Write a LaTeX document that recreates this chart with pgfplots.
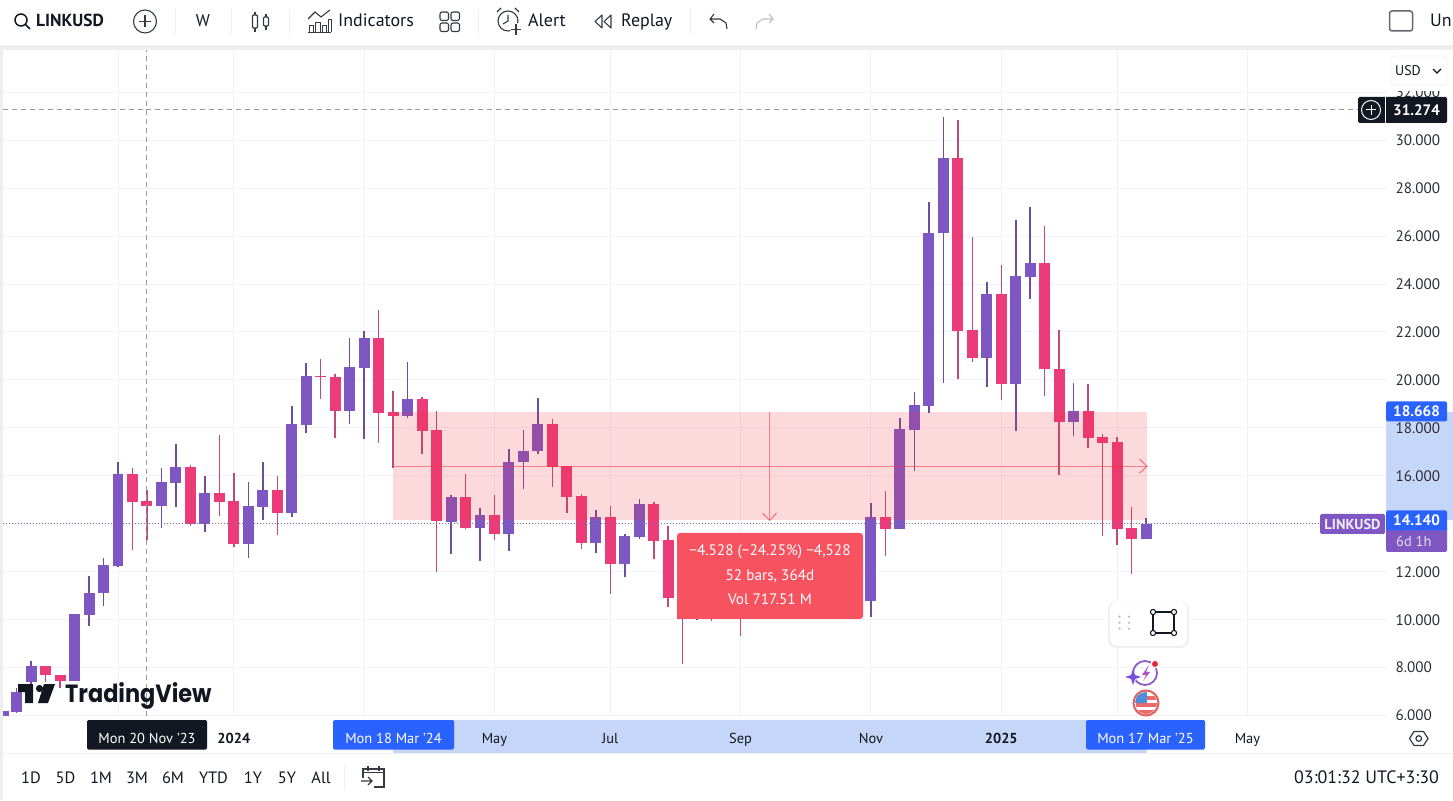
\documentclass[border=0pt]{standalone}
\usepackage{fontspec}
\usepackage{pgfplots}
\usepackage{pgfplotstable}
\pgfplotsset{compat=1.18}
\setmainfont{PT Sans}
\newfontfamily\tvfont[FakeStretch=0.9]{Poppins}
\definecolor{bullb}{HTML}{7E57C2}
\definecolor{bearb}{HTML}{EB3B79}
\definecolor{bullw}{HTML}{6C4E9F}
\definecolor{bearw}{HTML}{BE4A78}
\definecolor{ink}{HTML}{131722}
\definecolor{gridc}{HTML}{F0F2F8}
\definecolor{strip}{HTML}{EEEEEE}
\definecolor{tvblue}{HTML}{2962FF}
\definecolor{band}{HTML}{C6D6F9}
\definecolor{redt}{HTML}{F23645}
\definecolor{tip}{HTML}{F7525F}
\definecolor{cross}{HTML}{9598A1}
\definecolor{icon}{HTML}{2A2E39}
\definecolor{sepc}{HTML}{F0F0F0}
\definecolor{pline}{HTML}{7F6FA8}
\definecolor{boxc}{HTML}{F2F2F2}
\definecolor{ring}{HTML}{8E5BC7}
\definecolor{star}{HTML}{7B4FE0}
\definecolor{bolt}{HTML}{B14FC9}
\definecolor{dotr}{HTML}{E0283C}
\definecolor{flagr}{HTML}{E96A6A}
\definecolor{flagb}{HTML}{4C8FDB}
\definecolor{flagc}{HTML}{E06060}
% x = weekly bar index, o h l c = open high low close
\pgfplotstableread{
x o h l c
-7.9 5.98 6.19 5.98 6.19
-7 6.150 7.152 6.109 6.985
-6 7.402 8.278 7.30 8.069
-3 7.443 10.251 7.44 10.226
-2 10.196 11.823 9.750 11.127
-1 11.102 12.574 10.572 12.282
0 12.253 16.591 12.186 16.065
3 14.755 16.315 13.813 15.731
4 15.715 17.329 14.714 16.382
6 13.980 15.994 13.646 15.273
9 13.158 15.731 12.586 14.730
10 14.714 16.566 14.159 15.398
12 14.451 18.914 14.296 18.150
13 18.134 20.695 17.800 20.165
16 18.718 21.750 18.176 20.528
17 20.511 22.030 17.525 21.750
20 18.509 20.749 18.426 19.193
23 14.088 15.189 12.741 15.118
25 13.813 14.647 12.461 14.367
27 13.575 17.120 12.866 16.591
28 16.578 17.913 15.464 17.049
29 17.024 19.235 16.912 18.163
33 13.199 14.576 12.770 14.284
35 12.336 13.563 11.794 13.479
36 13.450 15.035 13.366 14.826
40 10.02 11.6 9.98 11.2
52 10.780 14.868 10.125 14.284
54 13.783 18.401 13.78 17.942
55 17.913 19.485 16.215 18.943
56 18.926 27.435 18.609 26.142
57 26.117 30.955 19.861 29.270
60 20.903 24.073 19.719 23.585
62 19.819 26.672 17.871 24.336
63 24.307 27.202 23.389 24.866
66 18.259 19.861 17.675 18.693
71 13.366 14.255 13.366 13.992
}\bull
\pgfplotstableread{
x o h l c
-5 8.069 8.069 7.402 7.694
-4 7.694 7.694 7.152 7.443
1 16.065 16.315 12.907 14.922
2 14.951 15.410 13.325 14.755
5 16.382 16.453 13.909 13.980
7 15.273 17.704 14.338 14.922
8 14.939 16.107 13.045 13.158
11 15.398 15.994 13.533 14.451
14 20.165 20.862 19.193 20.140
15 20.123 20.248 17.592 18.718
18 21.750 22.905 17.383 18.634
19 18.663 19.539 16.315 18.497
21 19.193 19.302 16.899 17.884
22 17.900 18.693 12.002 14.117
24 15.118 16.065 13.771 13.813
26 14.367 15.202 13.325 13.575
30 18.163 18.359 15.548 16.382
31 16.411 16.411 14.463 15.131
32 15.148 15.231 12.949 13.199
34 14.284 14.743 11.072 12.336
37 14.826 14.897 12.520 13.283
38 13.312 13.921 10.518 10.893
39 10.906 11.5 8.140 10.017
41 11.2 11.6 9.95 10.2
43 12.0 12.8 9.333 10.6
53 14.284 15.368 12.657 13.783
58 29.270 30.843 20.027 22.055
59 22.084 25.975 20.762 20.903
61 23.585 24.795 19.164 19.819
64 24.866 26.434 19.331 20.444
65 20.470 22.084 16.036 18.259
67 18.693 19.819 17.149 17.592
68 17.608 17.733 13.504 17.383
69 17.400 17.633 13.116 13.783
70 13.813 14.689 11.894 13.366
}\bear
\newcommand{\tx}[6]{\node[anchor=#1,inner sep=0pt,text=#5,font=\fontsize{#4}{#4}\selectfont] at (#2,#3) {#6};}
\tikzset{pxs/.style={x=1bp,y=-1bp,shift={(-3bp,715.6bp)}}}
\begin{document}
\begin{tikzpicture}
\begin{scope}[pxs]
\useasboundingbox (0,0) rectangle (1453,800);
\fill[white] (0,0) rectangle (1453,800);
\fill[strip] (0,45) rectangle (1453,50);
\fill[strip] (0,45) rectangle (3,800);
\draw[sepc,line width=1pt] (3,753.5) -- (1453,753.5);
\fill[band] (1386,412) rectangle (1453,520);
\fill[band] (393,720) rectangle (1147,753);
\end{scope}
\begin{axis}[
 at={(0pt,0pt)},anchor=south west,scale only axis,
 width=1384bp,height=665.6bp,
 xmin=-7.942,xmax=87.64,ymin=6,ymax=33.762,
 axis line style={draw=none},
 tick style={draw=none},
 grid=major,
 major grid style={draw=gridc,line width=1pt},
 ytick={6,8,...,32},
 yticklabels={6.000,8.000,10.000,12.000,{},16.000,18.000,20.000,22.000,24.000,26.000,28.000,30.000,32.000},
 xtick={0,8,17,26,34,43,52,61,69,78},
 xticklabels={{},\textbf{2024},{},May,Jul,Sep,Nov,\textbf{2025},{},May},
 xticklabel style={anchor=base,yshift=-28bp,font=\fontsize{14.5}{14.5}\selectfont,text=ink},
 yticklabel pos=right,
 yticklabel style={anchor=west,xshift=5bp,font=\fontsize{15.2}{15.2}\selectfont,text=ink!90},
]
% candle wicks and bodies
\addplot[draw=none,mark=none,error bars/.cd,y dir=both,y explicit,error mark=none,
  error bar style={draw=bullw,line width=1.5pt,solid}]
  table[x=x,y=c,y error plus expr=\thisrow{h}-\thisrow{c},y error minus expr=\thisrow{c}-\thisrow{l}]{\bull};
\addplot[draw=none,mark=none,error bars/.cd,y dir=both,y explicit,error mark=none,
  error bar style={draw=bearw,line width=1.5pt,solid}]
  table[x=x,y=c,y error plus expr=\thisrow{h}-\thisrow{c},y error minus expr=\thisrow{c}-\thisrow{l}]{\bear};
\addplot[draw=none,mark=none,error bars/.cd,y dir=plus,y explicit,error mark=none,
  error bar style={draw=bullb,line width=11pt,solid}]
  table[x=x,y=o,y error plus expr=\thisrow{c}-\thisrow{o}]{\bull};
\addplot[draw=none,mark=none,error bars/.cd,y dir=plus,y explicit,error mark=none,
  error bar style={draw=bearb,line width=11pt,solid}]
  table[x=x,y=c,y error plus expr=\thisrow{o}-\thisrow{c}]{\bear};
% measure tool
\addplot[fill=redt,fill opacity=0.19,draw=none] coordinates {(19,18.668)(71.06,18.668)(71.06,14.14)(19,14.14)} --cycle;
\addplot[redt,opacity=0.55,line width=1.3pt,mark=none] coordinates {(19,16.404)(71.06,16.404)};
\addplot[redt,opacity=0.55,line width=1.3pt,mark=none] coordinates {(70.55,16.70)(71.06,16.404)(70.55,16.11)};
\addplot[redt,opacity=0.55,line width=1.3pt,mark=none] coordinates {(45,18.668)(45,14.14)};
\addplot[redt,opacity=0.55,line width=1.3pt,mark=none] coordinates {(44.52,14.44)(45,14.14)(45.48,14.44)};
% crosshair
\addplot[cross,line width=1pt,dash pattern=on 5pt off 4pt,mark=none] coordinates {(-7.94,31.274)(86,31.274)};
\addplot[cross,line width=1pt,dash pattern=on 5pt off 4pt,mark=none] coordinates {(2,6)(2,33.76)};
% last price line
\addplot[pline,line width=1pt,dash pattern=on 1pt off 2pt,mark=none] coordinates {(-7.94,14.0)(83.2,14.0)};
\end{axis}
\begin{scope}[pxs]
% cover above and below the price scale
\fill[white] (1387,52) rectangle (1453,91);
\fill[white] (1387,720) rectangle (1453,753);
% time axis tags
\fill[ink,rounded corners=1.5pt] (87,720) rectangle (207,749.5);
\tx{base}{147}{743}{14.5}{white}{Mon 20 Nov '23}
\fill[tvblue,rounded corners=1.5pt] (333,720) rectangle (454,749.5);
\tx{base}{393.5}{743}{14.5}{white}{Mon 18 Mar '24}
\fill[tvblue,rounded corners=1.5pt] (1086,720) rectangle (1205,749.5);
\tx{base}{1145.5}{743}{14.5}{white}{Mon 17 Mar '25}
% price scale tags
\fill[tvblue,rounded corners=1.5pt] (1386,401.5) rectangle (1447,421.5);
\tx{base}{1416.5}{417}{15.2}{white}{\textbf{18.668}}
\fill[bullb,rounded corners=1.5pt] (1386,525) rectangle (1447,552);
\fill[tvblue,rounded corners=1.5pt] (1386,510.5) rectangle (1447,530.5);
\tx{base}{1416.5}{526}{15.2}{white}{\textbf{14.140}}
\tx{base west}{1396}{547}{14.5}{white!80!bullb}{6d 1h}
\fill[bullb,rounded corners=1.5pt] (1320,514) rectangle (1385,534);
\tx{base}{1352.5}{530}{14.5}{white!90!bullb}{\textbf{LINKUSD}}
\fill[ink,rounded corners=1.5pt] (1358,97) rectangle (1447,123);
\draw[white,line width=0.8pt] (1385.5,97) -- (1385.5,123);
\draw[white,line width=1pt] (1371,110) circle (9.5);
\draw[white,line width=1pt] (1366,110) -- (1376,110) (1371,105) -- (1371,115);
\tx{base}{1416.5}{115.5}{15.2}{white}{\textbf{31.274}}
\draw[boxc,fill=white,rounded corners=4pt,line width=0.8pt] (1391,56) rectangle (1447,85);
\tx{base west}{1395}{76}{14}{ink}{USD}
\draw[ink,line width=1.3pt] (1433,69) -- (1437,73) -- (1441,69);
% tooltip
\fill[tip,rounded corners=3pt] (677,533) rectangle (863,619);
\tx{base}{770}{556}{15.3}{white}{−4.528 (−24.25\%) −4,528}
\tx{base}{770}{581}{15.3}{white}{52 bars, 364d}
\tx{base}{770}{605}{15.3}{white}{Vol 717.51 M}
% TradingView mark
\fill[ink!95!black] (18,684) -- (33,684) -- (33,703) -- (25,703) -- (25,692) -- (18,692) -- cycle;
\fill[ink!95!black] (39.5,688.5) circle (3.6);
\fill[ink!95!black] (44,684) -- (55,684) -- (48,703) -- (38,703) -- cycle;
\tx{base west}{65}{702}{25}{ink!95!black}{\tvfont\bfseries TradingView}
% drawing toolbar
\fill[black!6,rounded corners=8pt] (1108,601) rectangle (1189,648);
\fill[white,rounded corners=8pt] (1110,601) rectangle (1187,646);
\foreach \yy in {616.7,622.7,628.7} {\fill[black!25] (1119.5,\yy) circle (1.3); \fill[black!25] (1129,\yy) circle (1.3);}
\draw[ink,line width=1.2pt] (1153,612) rectangle (1174,633);
\foreach \a/\b in {1153/612,1174/612,1153/633,1174/633} {\draw[ink,fill=white,line width=1.1pt] (\a,\b) circle (2.6);}
% assistant and flag icons
\draw[ring,line width=1.8pt] (1145,673) circle (12);
\fill[white] (1130,678) circle (6);
\fill[star] (1133,669) -- (1135,675) -- (1141,677) -- (1135,679) -- (1133,685) -- (1131,679) -- (1125,677) -- (1131,675) -- cycle;
\fill[bolt] (1149,665) -- (1142,675) -- (1146,675) -- (1143,681) -- (1150,672) -- (1146,672) -- cycle;
\fill[white] (1155,664) circle (4.5);
\fill[dotr] (1155,664) circle (3);
\fill[white] (1146,703) circle (12);
\begin{scope}
\clip (1146,703) circle (11);
\fill[flagr] (1136,696) rectangle (1158,699.5);
\fill[flagr] (1136,703) rectangle (1158,706.5);
\fill[flagr] (1136,710) rectangle (1158,714);
\fill[flagb] (1134,692) rectangle (1147,703);
\end{scope}
\draw[flagc,line width=2pt] (1146,703) circle (12.5);
% time axis settings
\draw[ink!85,line width=1.2pt,line join=round] (1409.5,738.5) -- (1414,731.5) -- (1423.5,731.5) -- (1428,738.5) -- (1423.5,745.5) -- (1414,745.5) -- cycle;
\draw[ink!85,line width=1.2pt] (1418.7,738.5) circle (2.8);
% top toolbar
\draw[ink,line width=1.5pt] (21,20) circle (6);
\draw[ink,line width=1.5pt] (25.5,24.5) -- (30,29);
\tx{base west}{36}{27}{17.5}{ink}{\textbf{LINKUSD}}
\draw[ink!85,line width=1.1pt] (145,21.5) circle (11.5);
\draw[ink!85,line width=1.1pt] (139,21.5) -- (151,21.5) (145,15.5) -- (145,27.5);
\foreach \xx in {175,231,289,478,690} {\draw[sepc,line width=1pt] (\xx,9) -- (\xx,34);}
\tx{base}{203}{27}{17}{ink}{W}
\draw[ink!85,line width=1.1pt] (255,12) -- (255,32) (266,14) -- (266,30);
\draw[ink!85,fill=white,line width=1.1pt,rounded corners=1pt] (252.5,15) rectangle (257.5,28);
\draw[ink!85,fill=white,line width=1.1pt,rounded corners=1pt] (263.5,17) rectangle (268.5,26);
\draw[ink!85,line width=0.9pt] (309,32) -- (309,25) -- (313,25) -- (313,32) (315,32) -- (315,22) -- (320,22) -- (320,32) (322,32) -- (322,25) -- (326,25) -- (326,32) (328,32) -- (328,19) -- (331,19) -- (331,32) (308,32) -- (331,32);
\draw[ink!85,line width=1.1pt] (308,19) -- (315,12) -- (321,17) -- (330,10);
\tx{base west}{338}{27}{18}{ink}{Indicators}
\foreach \a/\b in {440/12,451/12,440/23,451/23} {\draw[ink!85,line width=1.1pt,rounded corners=2pt] (\a,\b) rectangle +(8.5,8.5);}
\draw[ink!85,line width=1.1pt] (508,21) circle (10);
\draw[ink!85,line width=1.1pt] (508,15) -- (508,21) -- (503,24);
\draw[ink!85,line width=1.1pt] (497,12) -- (501,8) (515,8) -- (519,12);
\fill[white] (516,29) circle (6);
\draw[ink!85,line width=1.1pt] (511,29.5) -- (521,29.5) (516,24.5) -- (516,35);
\tx{base west}{528}{27}{18}{ink}{Alert}
\draw[ink!85,line width=1.1pt,line join=round] (602,15) -- (595,21.5) -- (602,28) -- cycle (611,15) -- (604,21.5) -- (611,28) -- cycle;
\tx{base west}{621}{27}{18}{ink}{Replay}
\draw[ink!85,line width=1.1pt] (714,14) -- (710,19) -- (714,23) (710,19) -- (720,19) -- (726,23) -- (727,29);
\draw[black!25,line width=1.1pt] (769,14) -- (773,19) -- (769,23) (773,19) -- (763,19) -- (757,23) -- (756,29);
\draw[ink!65,line width=1.5pt,rounded corners=2.5pt] (1389.5,11) rectangle (1412.5,31);
\tx{base west}{1430}{27}{18}{ink}{Un}
% bottom toolbar
\tx{base}{31}{783}{16.5}{ink}{1D}
\tx{base}{65.5}{783}{16.5}{ink}{5D}
\tx{base}{101}{783}{16.5}{ink}{1M}
\tx{base}{137}{783}{16.5}{ink}{3M}
\tx{base}{173}{783}{16.5}{ink}{6M}
\tx{base}{213.5}{783}{16.5}{ink}{YTD}
\tx{base}{253}{783}{16.5}{ink}{1Y}
\tx{base}{287}{783}{16.5}{ink}{5Y}
\tx{base}{321}{783}{16.5}{ink}{All}
\draw[sepc,line width=1pt] (344.5,765) -- (344.5,790);
\draw[ink!85,line width=1.1pt] (363,778) -- (363,769) -- (384,769) -- (384,787) -- (374,787);
\draw[ink!85,line width=1.1pt] (363,772.5) -- (384,772.5) (368,766) -- (368,771) (379,766) -- (379,771);
\draw[ink!85,line width=1.1pt] (361,781) -- (372,781) (368,777) -- (372,781) -- (368,785);
\tx{base east}{1439}{783}{18}{ink}{03:01:32 UTC+3:30}
\end{scope}
\end{tikzpicture}
\end{document}
